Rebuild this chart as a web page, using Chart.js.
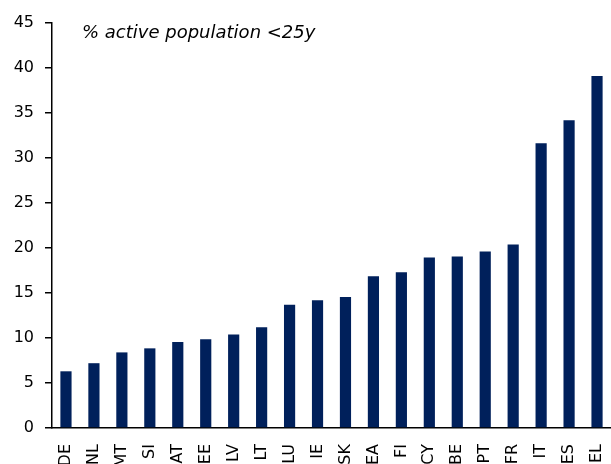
<!DOCTYPE html>
<html>
<head>
<meta charset="utf-8">
<script src="https://cdn.jsdelivr.net/npm/chart.js@4"></script>
<style>
  html, body { margin: 0; padding: 0; background: #fff; }
  #wrap { width: 611px; height: 464px; }
</style>
</head>
<body>
<div id="wrap"><canvas id="chart"></canvas></div>
<script>
// pays (ordre croissant)
const countries = ["DE", "NL", "MT", "SI", "AT", "EE", "LV", "LT", "LU", "IE",
  "SK", "EA", "FI", "CY", "BE", "PT", "FR", "IT", "ES", "EL"];
// part de la population active de moins de 25 ans (%)
const youthShare = [6.3, 7.2, 8.4, 8.85, 9.55, 9.85, 10.4, 11.2, 13.7, 14.2,
  14.55, 16.85, 17.3, 18.95, 19.05, 19.6, 20.4, 31.65, 34.2, 39.1];
const yTicks = [0, 5, 10, 15, 20, 25, 30, 35, 40, 45];
const chartLabel = "% active population <25y";

const font = "'DejaVu Sans', Verdana, sans-serif";

// texte en italique dans la zone du graphique
const innerLabel = {
  id: "innerLabel",
  afterDraw(chart) {
    const ctx = chart.ctx;
    ctx.save();
    ctx.font = "italic 18px " + font;
    ctx.fillStyle = "#000";
    ctx.textBaseline = "middle";
    ctx.fillText(chartLabel, chart.chartArea.left + 30, 33);
    ctx.restore();
  },
};

new Chart(document.getElementById("chart"), {
  type: "bar",
  data: {
    labels: countries,
    datasets: [
      {
        data: youthShare,
        backgroundColor: "#00205b",
        barPercentage: 0.4,
        categoryPercentage: 1,
      },
    ],
  },
  options: {
    responsive: true,
    maintainAspectRatio: false,
    animation: false,
    layout: { padding: { top: 23, right: 0, left: 0, bottom: 0 } },
    plugins: {
      legend: { display: false },
      tooltip: { enabled: false },
    },
    scales: {
      x: {
        grid: { display: false, drawTicks: false },
        border: { display: true, color: "#000", width: 1.5 },
        ticks: {
          color: "#000",
          font: { family: font, size: 16 },
          maxRotation: 90,
          minRotation: 90,
          padding: 16,
        },
        afterFit(scale) {
          scale.height = 36;
          scale.paddingRight = 0;
          scale.paddingLeft = 0;
        },
      },
      y: {
        min: 0,
        max: 45,
        afterBuildTicks(scale) {
          scale.ticks = yTicks.map((v) => ({ value: v }));
        },
        grid: {
          drawOnChartArea: false,
          drawTicks: true,
          tickLength: 7,
          color: "#000",
          lineWidth: 1.5,
        },
        border: { display: true, color: "#000", width: 1.5 },
        ticks: {
          color: "#000",
          font: { family: font, size: 16 },
          padding: 11,
        },
        afterFit(scale) {
          scale.width = 52;
        },
      },
    },
  },
  plugins: [innerLabel],
});
</script>
</body>
</html>
